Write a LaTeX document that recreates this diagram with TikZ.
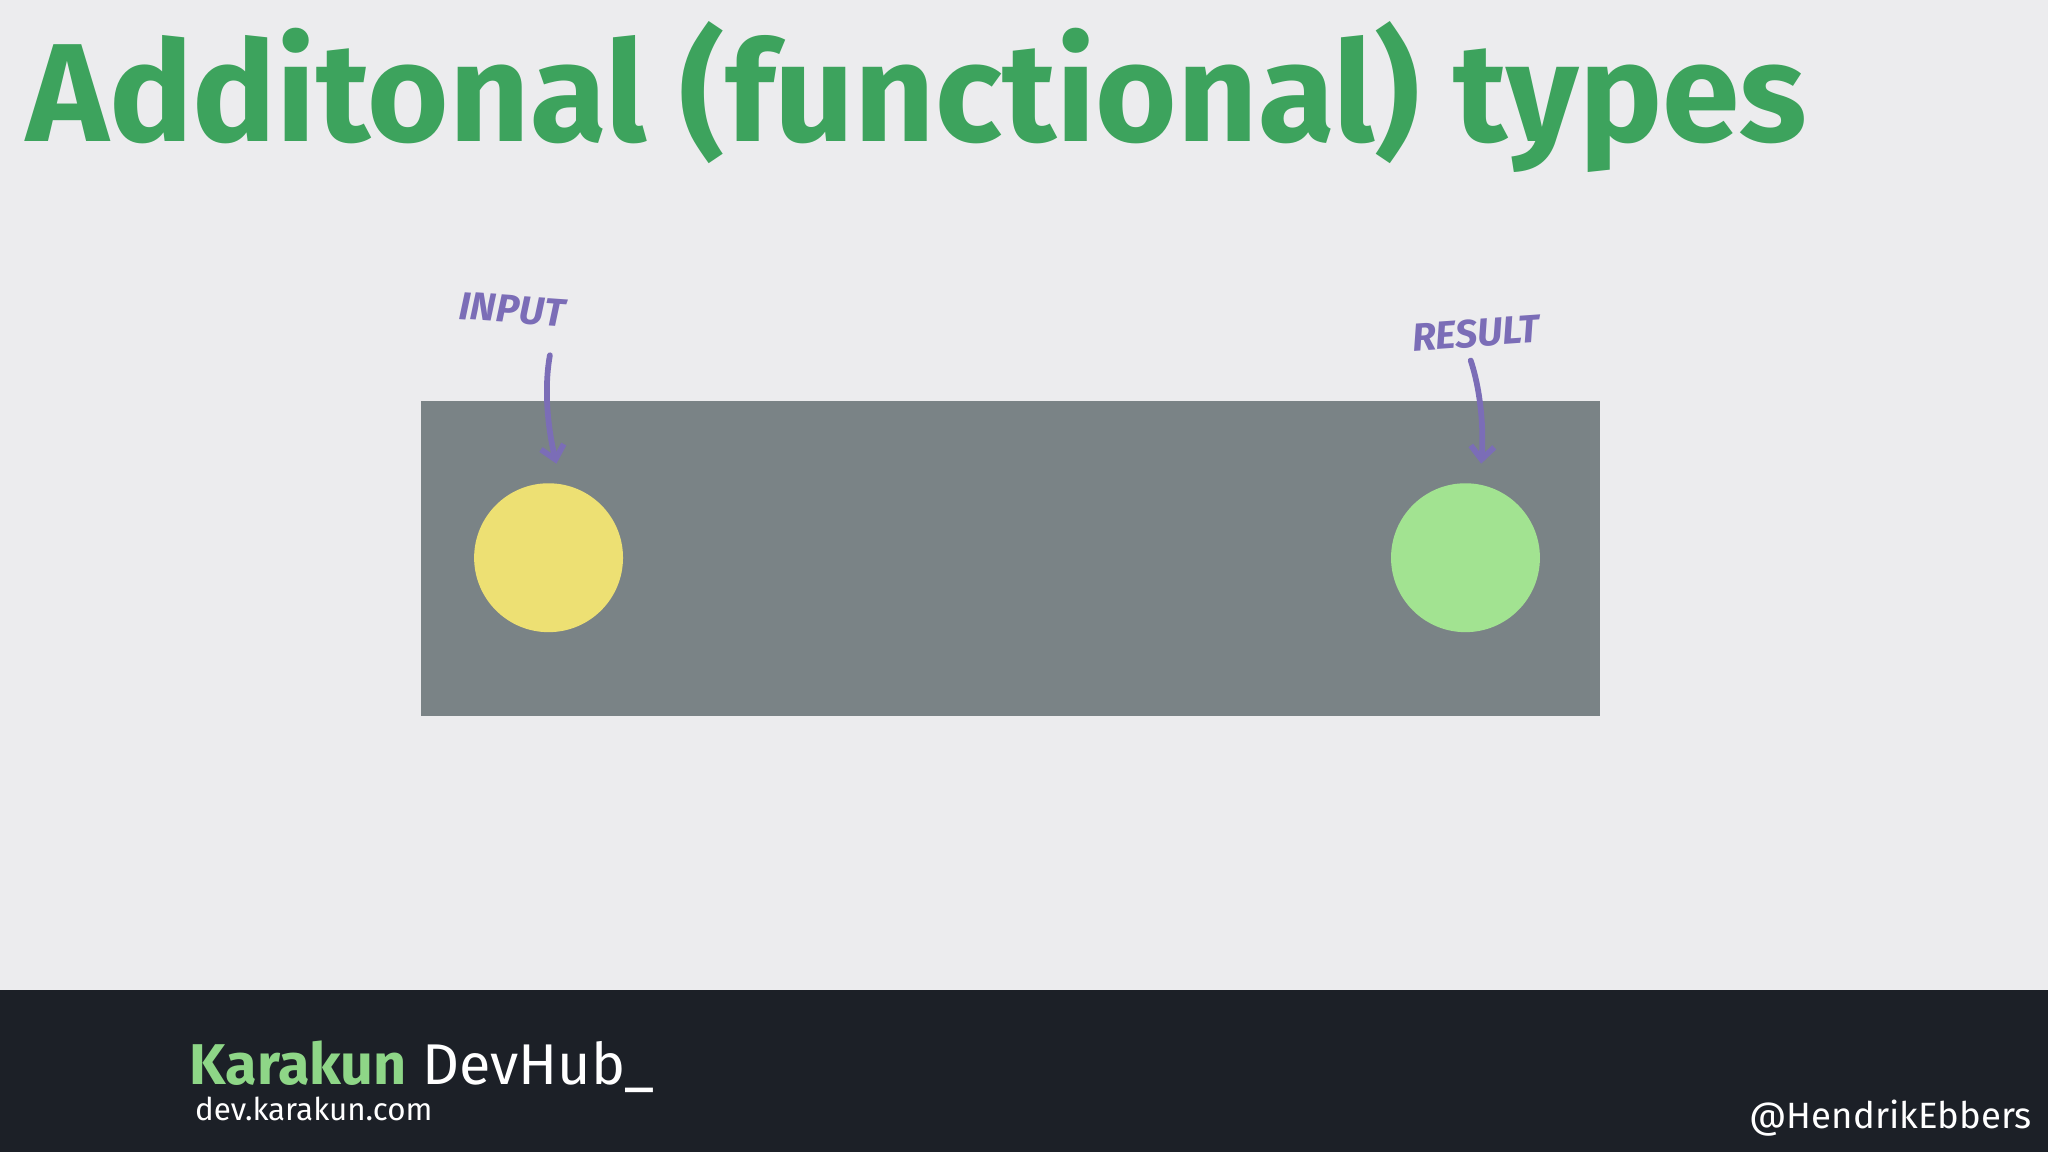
\documentclass[tikz,border=0pt]{standalone}
\usepackage{fontspec}
\setmainfont{Fira Sans}
\usetikzlibrary{arrows.meta}
\definecolor{slidebg}{HTML}{ECECEE}
\definecolor{titlegreen}{HTML}{3DA35D}
\definecolor{boxgray}{HTML}{7A8386}
\definecolor{inyellow}{HTML}{EDE073}
\definecolor{outgreen}{HTML}{A2E391}
\definecolor{penpurple}{HTML}{7B6DB7}
\definecolor{footdark}{HTML}{1C2027}
\tikzset{
  note/.style={text=penpurple, font=\fontsize{15}{15}\selectfont\bfseries\itshape, inner sep=0.75pt},
  pen/.style={draw=penpurple, line width=2.2pt, line cap=round, -{Straight Barb[length=5pt,width=9pt]}},
}
\begin{document}
\begin{tikzpicture}[x=0.5pt,y=0.5pt,yscale=-1,xscale=1]
\useasboundingbox (0,0) rectangle (1568,882);
%Background
\fill[slidebg] (0,0) rectangle (1568,882);
%Footer
\fill[footdark] (0,758) rectangle (1568,882);

% Title
\node (title) [anchor=base west, text=titlegreen, inner sep=0pt, font=\fontsize{53.5}{53.5}\selectfont\bfseries] at (20,108) {Additonal (functional) types};

%Shape: Rectangle [id:box]
\fill[boxgray] (322,307) rectangle (1225,548);
%Shape: Circle [id:input]
\node (inDot) [circle, fill=inyellow, minimum size=57pt, inner sep=0pt] at (420,427) {};
%Shape: Circle [id:result]
\node (outDot) [circle, fill=outgreen, minimum size=57pt, inner sep=0pt] at (1122,427) {};

% Text Node
\node (inLbl) [note, rotate=-4] at (392,237) {INPUT};
% Text Node
\node (outLbl) [note, rotate=4] at (1130,255) {RESULT};

%Curve Lines
\draw[pen] (421,272) .. controls (416,300) and (420,330) .. (426,355);
\draw[pen] (1126,276) .. controls (1134,300) and (1136,330) .. (1134,355);

% Footer text
\node (brand) [anchor=base west, inner sep=0pt, font=\fontsize{22}{22}\selectfont] at (145,830) {\textcolor{outgreen!80!titlegreen}{\bfseries Karakun} \textcolor{white}{DevHub\_}};
\node (site) [anchor=base west, inner sep=0pt, text=white, font=\fontsize{12}{12}\selectfont] at (149,858) {dev.karakun.com};
\node (handle) [anchor=base east, inner sep=0pt, text=white, font=\fontsize{14}{14}\selectfont] at (1556,864) {@HendrikEbbers};
\end{tikzpicture}
\end{document}
